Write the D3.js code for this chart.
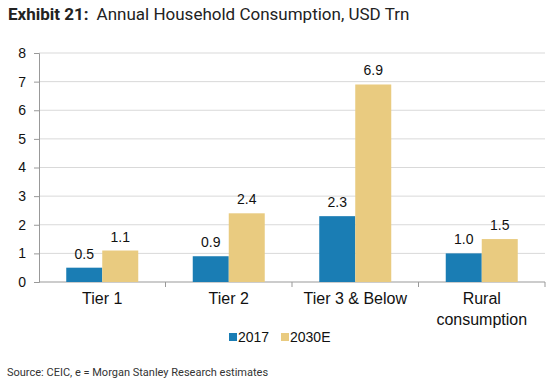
<!DOCTYPE html>
<html>
<head>
<meta charset="utf-8">
<script src="https://cdn.jsdelivr.net/npm/d3@7"></script>
<style>
  body { margin: 0; background: #fff; }
  svg { display: block; }
</style>
</head>
<body>
<div id="chart"></div>
<script>
'use strict';

var categories = [['Tier 1'], ['Tier 2'], ['Tier 3 & Below'], ['Rural', 'consumption']];
var seriesNames = ['2017', '2030E'];
var values2017 = [0.5, 0.9, 2.3, 1.0];
var values2030 = [1.1, 2.4, 6.9, 1.5];
var yTicks = [0, 1, 2, 3, 4, 5, 6, 7, 8];

var colors = ['#1a7db4', '#e9cb80'];
var W = 550, H = 388;
var margin = { top: 53, right: 5, bottom: 106, left: 39 };

var svg = d3.select('#chart').append('svg')
  .attr('width', W).attr('height', H);

// title
var title = svg.append('text')
  .attr('x', 8).attr('y', 20)
  .style('font-family', 'Roboto, sans-serif')
  .style('font-size', '17px')
  .attr('fill', '#222');
title.append('tspan').style('font-weight', 'bold').text('Exhibit 21:');
title.append('tspan').attr('dx', 8).text('Annual Household Consumption, USD Trn');

var x0 = d3.scaleBand()
  .domain(d3.range(categories.length))
  .range([margin.left, W - margin.right]);

var x1 = d3.scaleBand()
  .domain(seriesNames)
  .range([0, 72]);

var y = d3.scaleLinear()
  .domain([0, 8])
  .range([H - margin.bottom, margin.top]);

// gridlines
svg.append('g')
  .selectAll('line')
  .data(yTicks.slice(1))
  .enter().append('line')
  .attr('x1', margin.left).attr('x2', W - margin.right)
  .attr('y1', function(d){ return y(d); })
  .attr('y2', function(d){ return y(d); })
  .attr('stroke', '#d9d9d9')
  .attr('stroke-width', 1);

// y axis
var yAxis = svg.append('g')
  .attr('transform', 'translate(' + margin.left + ',0)')
  .call(d3.axisLeft(y).tickValues(yTicks).tickSize(5).tickPadding(8));
yAxis.select('.domain').attr('stroke', '#999');
yAxis.selectAll('.tick line').attr('stroke', '#999');
yAxis.selectAll('text')
  .style('font-family', 'Liberation Sans, Arial, sans-serif')
  .style('font-size', '14px')
  .attr('fill', '#111');

// x axis baseline and boundary ticks
var baseY = y(0);
svg.append('line')
  .attr('x1', margin.left).attr('x2', W - margin.right)
  .attr('y1', baseY).attr('y2', baseY)
  .attr('stroke', '#999');
svg.append('g')
  .selectAll('line')
  .data(d3.range(1, categories.length + 1))
  .enter().append('line')
  .attr('x1', function(i){ return margin.left + i * x0.bandwidth(); })
  .attr('x2', function(i){ return margin.left + i * x0.bandwidth(); })
  .attr('y1', baseY).attr('y2', baseY + 5)
  .attr('stroke', '#999');

// bars
var rows = categories.map(function(c, i){
  return [
    { i: i, s: seriesNames[0], v: values2017[i] },
    { i: i, s: seriesNames[1], v: values2030[i] }
  ];
});

var groups = svg.append('g')
  .selectAll('g')
  .data(rows)
  .enter().append('g')
  .attr('transform', function(d, i){
    return 'translate(' + (x0(i) + (x0.bandwidth() - 72) / 2) + ',0)';
  });

groups.selectAll('rect')
  .data(function(d){ return d; })
  .enter().append('rect')
  .attr('x', function(d){ return x1(d.s); })
  .attr('width', x1.bandwidth())
  .attr('y', function(d){ return y(d.v); })
  .attr('height', function(d){ return baseY - y(d.v); })
  .attr('fill', function(d, j){ return colors[j]; });

groups.selectAll('text')
  .data(function(d){ return d; })
  .enter().append('text')
  .attr('x', function(d){ return x1(d.s) + x1.bandwidth() / 2; })
  .attr('y', function(d){ return y(d.v) - 9; })
  .attr('text-anchor', 'middle')
  .style('font-family', 'Liberation Sans, Arial, sans-serif')
  .style('font-size', '14px')
  .attr('fill', '#111')
  .text(function(d){ return d.v.toFixed(1); });

// category labels
svg.append('g')
  .selectAll('text')
  .data(categories)
  .enter().append('text')
  .attr('x', function(d, i){ return x0(i) + x0.bandwidth() / 2; })
  .attr('y', baseY + 22)
  .attr('text-anchor', 'middle')
  .style('font-family', 'Liberation Sans, Arial, sans-serif')
  .style('font-size', '16px')
  .attr('fill', '#111')
  .each(function(d){
    var t = d3.select(this);
    d.forEach(function(line, k){
      t.append('tspan')
        .attr('x', t.attr('x'))
        .attr('dy', k === 0 ? 0 : 21)
        .text(line);
    });
  });

// legend
var legend = svg.append('g').attr('transform', 'translate(229,342)');
var items = legend.selectAll('g')
  .data(seriesNames)
  .enter().append('g')
  .attr('transform', function(d, i){ return 'translate(' + (i * 52) + ',0)'; });
items.append('rect')
  .attr('x', 0).attr('y', -9)
  .attr('width', 8).attr('height', 8)
  .attr('fill', function(d, i){ return colors[i]; });
items.append('text')
  .attr('x', 9).attr('y', 0)
  .style('font-family', 'Liberation Sans, Arial, sans-serif')
  .style('font-size', '14px')
  .attr('fill', '#111')
  .text(function(d){ return d; });

// source
svg.append('text')
  .attr('x', 7).attr('y', 376)
  .style('font-family', 'Roboto, sans-serif')
  .style('font-size', '11px')
  .attr('fill', '#333')
  .text('Source: CEIC, e = Morgan Stanley Research estimates');
</script>
</body>
</html>
